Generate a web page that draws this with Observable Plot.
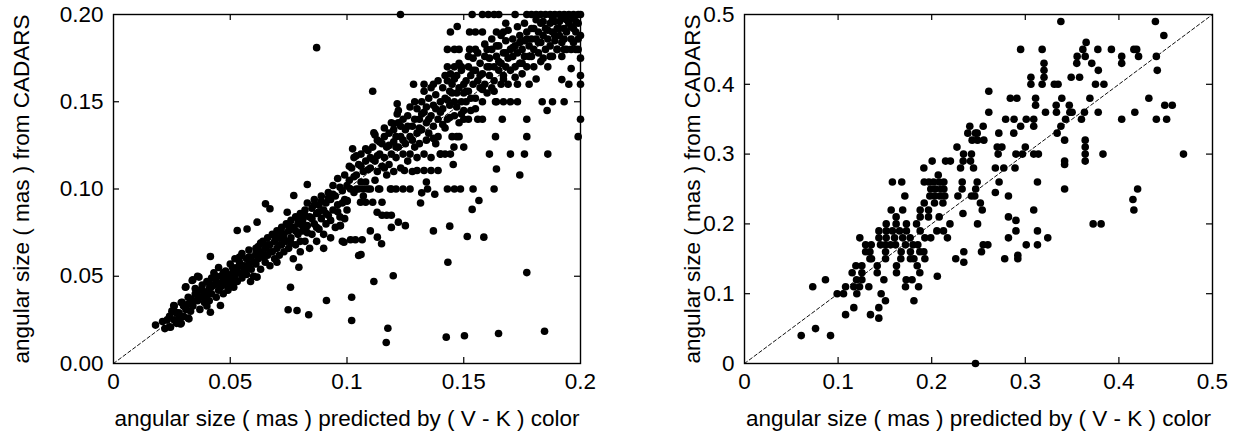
<!DOCTYPE html>
<html>
<head>
<meta charset="utf-8">
<script src="https://cdn.jsdelivr.net/npm/d3@7"></script>
<script src="https://cdn.jsdelivr.net/npm/@observablehq/plot@0.6"></script>
<style>
  html, body { margin: 0; padding: 0; background: white; }
  #wrap { display: flex; width: 1244px; height: 438px; }
</style>
</head>
<body>
<div id="wrap"></div>
<script>
// ---------- Left panel data ----------
const leftXTicks = [0, 0.05, 0.1, 0.15, 0.2];
const leftXTickLabels = ["0", "0.05", "0.1", "0.15", "0.2"];
const leftYTicks = [0, 0.05, 0.1, 0.15, 0.2];
const leftYTickLabels = ["0.00", "0.05", "0.10", "0.15", "0.20"];
const leftDomain = [0, 0.2];

const leftPoints = [
  [0.018,0.022],[0.021,0.024],[0.022,0.020],[0.024,0.027],[0.024,0.021],[0.026,0.025],[0.027,0.023],[0.028,0.029],[0.029,0.023],[0.026,0.033],[0.029,0.035],[0.027,0.029],[0.030,0.027],[0.032,0.026],[0.031,0.031],
  [0.0244,0.0208],[0.0287,0.0227],[0.0323,0.0256],[0.0258,0.0332],[0.0294,0.0351],[0.0266,0.0294],[0.0308,0.0437],[0.0337,0.0476],[0.0366,0.0495],[0.0415,0.0613],[0.0415,0.0294],[0.0458,0.0332],
  [0.031,0.044],[0.032,0.034],[0.033,0.030],[0.033,0.037],[0.034,0.048],[0.034,0.033],[0.035,0.040],[0.036,0.036],[0.036,0.050],[0.037,0.031],[0.037,0.042],[0.038,0.038],[0.038,0.045],[0.039,0.035],[0.039,0.041],[0.040,0.047],[0.040,0.033],[0.040,0.039],
  [0.041,0.043],[0.041,0.036],[0.042,0.049],[0.042,0.040],[0.043,0.045],[0.043,0.052],[0.044,0.038],[0.044,0.047],[0.045,0.042],[0.045,0.055],[0.046,0.050],[0.046,0.044],[0.047,0.040],[0.047,0.047],[0.048,0.053],[0.048,0.045],[0.049,0.050],[0.049,0.042],[0.050,0.057],[0.050,0.048],[0.050,0.044],
  [0.051,0.052],[0.051,0.046],[0.052,0.060],[0.052,0.050],[0.053,0.055],[0.053,0.047],[0.054,0.058],[0.054,0.052],[0.055,0.063],[0.055,0.049],[0.056,0.056],[0.056,0.053],[0.057,0.060],[0.057,0.051],[0.058,0.065],[0.058,0.057],[0.059,0.054],[0.059,0.061],[0.060,0.058],[0.060,0.050],
  [0.0515,0.0437],[0.0587,0.047],[0.0615,0.0495],[0.053,0.0762],[0.0572,0.0771],[0.0615,0.081],[0.0651,0.0915],[0.067,0.0887],[0.0772,0.0963],[0.0744,0.0867],
  [0.061,0.063],[0.061,0.057],[0.062,0.067],[0.062,0.060],[0.063,0.054],[0.063,0.064],[0.064,0.070],[0.064,0.061],[0.065,0.058],[0.065,0.066],[0.066,0.072],[0.066,0.062],[0.067,0.068],[0.067,0.056],[0.068,0.064],[0.068,0.074],[0.069,0.060],[0.069,0.070],[0.070,0.066],[0.070,0.076],[0.070,0.058],
  [0.071,0.072],[0.071,0.062],[0.072,0.078],[0.072,0.068],[0.073,0.064],[0.073,0.074],[0.074,0.080],[0.074,0.070],[0.075,0.066],[0.075,0.076],[0.076,0.082],[0.076,0.072],[0.077,0.060],[0.077,0.078],[0.078,0.068],[0.078,0.084],[0.079,0.074],[0.079,0.080],[0.080,0.070],[0.080,0.086],[0.080,0.064],
  [0.0758,0.0437],[0.0748,0.0308],[0.0786,0.0304],[0.0836,0.0279],[0.0912,0.0361],[0.0794,0.0552],
  [0.081,0.076],[0.081,0.082],[0.082,0.088],[0.082,0.070],[0.083,0.079],[0.083,0.092],[0.084,0.084],[0.084,0.066],[0.085,0.074],[0.085,0.089],[0.086,0.080],[0.086,0.094],[0.087,0.086],[0.087,0.070],[0.088,0.077],[0.088,0.091],[0.089,0.083],[0.089,0.096],[0.090,0.074],[0.090,0.088],[0.090,0.066],
  [0.083,0.1026],[0.1024,0.123],[0.087,0.181],
  [0.091,0.092],[0.091,0.080],[0.092,0.098],[0.092,0.085],[0.093,0.072],[0.093,0.094],[0.094,0.088],[0.094,0.102],[0.095,0.078],[0.095,0.096],[0.096,0.091],[0.096,0.106],[0.097,0.084],[0.097,0.079],[0.098,0.099],[0.098,0.070],[0.099,0.094],[0.099,0.108],[0.100,0.088],[0.100,0.093],[0.100,0.102],
  [0.0987,0.0695],[0.1036,0.0709],[0.0972,0.079],[0.1001,0.0934],[0.105,0.0619],[0.102,0.038],[0.102,0.0246],
  [0.101,0.105],[0.102,0.112],[0.103,0.098],[0.103,0.118],[0.104,0.108],[0.105,0.114],[0.105,0.100],[0.106,0.120],[0.107,0.110],[0.107,0.096],[0.108,0.116],[0.108,0.104],[0.109,0.122],[0.109,0.100],[0.110,0.112],[0.110,0.118],[0.110,0.100],
  [0.1115,0.1322],[0.120,0.1374],[0.1215,0.143],[0.1215,0.1488],[0.111,0.156],
  [0.111,0.124],[0.112,0.116],[0.112,0.105],[0.113,0.128],[0.113,0.110],[0.114,0.120],[0.114,0.100],[0.115,0.126],[0.115,0.113],[0.116,0.130],[0.116,0.118],[0.117,0.108],[0.117,0.124],[0.118,0.132],[0.118,0.114],[0.119,0.120],[0.119,0.100],[0.120,0.127],[0.120,0.110],[0.120,0.134],
  [0.1129,0.0867],[0.115,0.085],[0.117,0.085],[0.119,0.085],[0.122,0.081],[0.125,0.079],[0.119,0.078],[0.110,0.076],[0.113,0.0724],[0.1148,0.0686],[0.1115,0.047],[0.1198,0.0503],[0.1175,0.0202],[0.1168,0.012],[0.106,0.0625],[0.1015,0.0709],[0.1065,0.0709],
  [0.1015,0.100],[0.104,0.100],[0.107,0.100],[0.1135,0.100],[0.1186,0.100],[0.121,0.100],[0.124,0.100],[0.127,0.100],[0.1345,0.100],[0.143,0.100],[0.146,0.100],[0.1486,0.100],[0.154,0.100],[0.163,0.100],
  [0.1058,0.0924],[0.108,0.0924],[0.111,0.0924],[0.115,0.0924],
  [0.121,0.130],[0.121,0.118],[0.122,0.138],[0.122,0.124],[0.123,0.112],[0.123,0.130],[0.124,0.140],[0.124,0.120],[0.125,0.134],[0.125,0.126],[0.126,0.116],[0.126,0.142],[0.127,0.130],[0.127,0.120],[0.128,0.136],[0.128,0.110],[0.129,0.140],[0.129,0.124],[0.130,0.132],[0.130,0.146],[0.130,0.118],
  [0.1229,0.200],[0.1246,0.1106],[0.130,0.1106],[0.133,0.1106],[0.136,0.1106],[0.139,0.1106],[0.134,0.104],[0.1315,0.092],[0.1376,0.097],[0.132,0.0978],[0.137,0.076],
  [0.1285,0.160],[0.133,0.160],[0.137,0.160],
  [0.131,0.140],[0.131,0.126],[0.132,0.150],[0.132,0.134],[0.133,0.120],[0.133,0.144],[0.134,0.138],[0.134,0.128],[0.135,0.152],[0.135,0.132],[0.136,0.142],[0.136,0.118],[0.137,0.148],[0.137,0.136],[0.138,0.126],[0.138,0.154],[0.139,0.140],[0.139,0.130],[0.140,0.150],[0.140,0.144],[0.140,0.120],
  [0.141,0.146],[0.141,0.158],[0.142,0.135],[0.142,0.152],[0.143,0.162],[0.143,0.140],[0.144,0.148],[0.144,0.156],[0.145,0.130],[0.145,0.160],[0.146,0.150],[0.146,0.142],[0.147,0.165],[0.147,0.155],[0.148,0.138],[0.148,0.158],[0.149,0.150],[0.149,0.168],[0.150,0.145],[0.150,0.160],[0.150,0.155],
  [0.143,0.170],[0.146,0.170],[0.149,0.170],[0.1443,0.166],
  [0.151,0.162],[0.151,0.150],[0.152,0.170],[0.152,0.156],[0.153,0.145],[0.153,0.165],[0.154,0.160],[0.154,0.175],[0.155,0.152],[0.155,0.168],[0.156,0.162],[0.156,0.140],[0.157,0.172],[0.157,0.158],[0.158,0.166],[0.158,0.150],[0.159,0.176],[0.159,0.160],[0.160,0.170],[0.160,0.155],[0.160,0.180],
  [0.161,0.165],[0.161,0.175],[0.162,0.158],[0.162,0.180],[0.163,0.170],[0.163,0.162],[0.164,0.176],[0.164,0.150],[0.165,0.168],[0.165,0.182],[0.166,0.172],[0.166,0.160],[0.167,0.178],[0.167,0.165],[0.168,0.185],[0.168,0.170],[0.169,0.175],[0.169,0.160],[0.170,0.180],[0.170,0.168],
  [0.171,0.176],[0.171,0.186],[0.172,0.170],[0.172,0.182],[0.173,0.178],[0.173,0.160],[0.174,0.188],[0.174,0.172],[0.175,0.180],[0.175,0.166],[0.176,0.185],[0.176,0.176],[0.177,0.190],[0.177,0.170],[0.178,0.182],[0.178,0.160],[0.179,0.186],[0.179,0.176],[0.180,0.192],[0.180,0.180],[0.180,0.170],
  [0.181,0.186],[0.181,0.163],[0.182,0.190],[0.182,0.178],[0.183,0.184],[0.183,0.195],[0.184,0.175],[0.184,0.188],[0.185,0.192],[0.185,0.180],[0.186,0.170],[0.186,0.186],[0.187,0.195],[0.187,0.182],[0.188,0.190],[0.188,0.176],[0.189,0.185],[0.189,0.196],[0.190,0.192],[0.190,0.180],
  [0.191,0.188],[0.191,0.196],[0.192,0.1627],[0.192,0.184],[0.193,0.192],[0.193,0.198],[0.194,0.180],[0.194,0.190],[0.195,0.160],[0.195,0.195],[0.196,0.169],[0.196,0.186],[0.197,0.192],[0.197,0.198],[0.198,0.180],[0.198,0.190],[0.199,0.195],[0.200,0.188],[0.200,0.175],[0.200,0.160],[0.200,0.165],
  [0.1536,0.200],[0.158,0.200],[0.1605,0.200],[0.163,0.200],[0.165,0.200],[0.172,0.200],[0.177,0.200],[0.179,0.200],[0.181,0.200],[0.183,0.200],[0.185,0.200],[0.187,0.200],[0.189,0.200],[0.191,0.200],[0.193,0.200],[0.195,0.200],[0.197,0.200],[0.199,0.200],[0.200,0.200],
  [0.1443,0.190],[0.1525,0.190],[0.155,0.190],[0.158,0.190],[0.164,0.190],[0.167,0.190],[0.1472,0.1931],[0.168,0.195],
  [0.143,0.180],[0.146,0.180],[0.148,0.180],[0.1525,0.180],[0.155,0.180],[0.190,0.180],[0.193,0.180],[0.196,0.180],[0.199,0.180],
  [0.1636,0.150],[0.167,0.150],[0.170,0.150],[0.173,0.150],[0.1836,0.150],[0.188,0.150],[0.193,0.150],[0.1857,0.145],
  [0.150,0.140],[0.152,0.140],[0.158,0.140],[0.1665,0.140],[0.177,0.140],[0.200,0.140],
  [0.147,0.130],[0.148,0.130],[0.1636,0.130],[0.177,0.130],[0.199,0.130],
  [0.140,0.120],[0.142,0.120],[0.1443,0.120],[0.161,0.120],[0.170,0.120],[0.176,0.120],[0.186,0.120],[0.150,0.124],[0.1458,0.124],
  [0.164,0.1115],[0.174,0.108],[0.1455,0.114],
  [0.1565,0.0934],[0.1536,0.0883],[0.144,0.0787],[0.1515,0.0728],[0.1586,0.0724],[0.1432,0.058],[0.177,0.0521],
  [0.1425,0.0151],[0.1503,0.0159],[0.1649,0.0172],[0.1846,0.0185],
  // extra band points
  [0.101,0.113],[0.103,0.107],[0.104,0.119],[0.106,0.104],[0.106,0.113],[0.108,0.123],[0.109,0.111],[0.111,0.117],[0.112,0.131],[0.113,0.119],[0.114,0.127],[0.116,0.112],[0.116,0.135],[0.118,0.125],[0.119,0.138],[0.121,0.124],[0.122,0.145],[0.123,0.136],[0.124,0.128],[0.126,0.136],[0.127,0.147],[0.128,0.128],[0.129,0.150],[0.131,0.135],[0.132,0.143],[0.133,0.156],[0.134,0.147],[0.135,0.140],[0.136,0.158],[0.137,0.129],[0.138,0.146],[0.139,0.162],[0.141,0.137],[0.142,0.165],[0.143,0.151],[0.144,0.141],[0.145,0.155],[0.146,0.163],[0.147,0.147],[0.148,0.172],[0.149,0.143],
  [0.151,0.156],[0.152,0.176],[0.153,0.152],[0.154,0.168],[0.155,0.146],[0.156,0.178],[0.157,0.165],[0.158,0.157],[0.159,0.183],[0.161,0.170],[0.162,0.186],[0.163,0.156],[0.164,0.182],[0.165,0.173],[0.166,0.188],[0.167,0.163],[0.168,0.178],[0.169,0.191],[0.171,0.181],[0.172,0.164],[0.173,0.193],[0.174,0.184],[0.175,0.172],[0.176,0.195],[0.177,0.186],[0.178,0.176],[0.179,0.192],[0.181,0.197],[0.182,0.184],[0.183,0.173],[0.184,0.196],[0.186,0.191],[0.187,0.176],[0.188,0.197],[0.189,0.188],[0.191,0.192],[0.192,0.176],[0.193,0.186],[0.194,0.197],[0.196,0.193],[0.197,0.184],[0.198,0.196],[0.199,0.186],
  [0.023,0.025],[0.025,0.030],[0.028,0.026],[0.030,0.033],[0.032,0.038],[0.034,0.036],[0.035,0.043],[0.036,0.039],[0.038,0.042],[0.041,0.046],[0.042,0.044],[0.044,0.050],[0.045,0.046],[0.047,0.052],[0.048,0.049],[0.051,0.055],[0.052,0.053],[0.054,0.061],[0.055,0.056],[0.057,0.055],[0.058,0.061],[0.061,0.066],[0.062,0.063],[0.063,0.069],[0.065,0.062],[0.066,0.068],[0.067,0.064],[0.069,0.073],[0.071,0.068],[0.072,0.075],[0.073,0.071],[0.075,0.079],[0.076,0.069],[0.078,0.076],[0.079,0.083],[0.081,0.079],[0.082,0.085],[0.083,0.075],[0.085,0.083],[0.086,0.091],[0.087,0.078],[0.088,0.087],[0.089,0.093],[0.091,0.086],[0.092,0.095],[0.093,0.082],[0.094,0.097],[0.096,0.087],[0.097,0.101],[0.098,0.092],[0.099,0.083]
];

// ---------- Right panel data ----------
const rightXTicks = [0, 0.1, 0.2, 0.3, 0.4, 0.5];
const rightXTickLabels = ["0", "0.1", "0.2", "0.3", "0.4", "0.5"];
const rightYTicks = [0, 0.1, 0.2, 0.3, 0.4, 0.5];
const rightYTickLabels = ["0", "0.1", "0.2", "0.3", "0.4", "0.5"];
const rightDomain = [0, 0.5];

// rows: [CADARS size, [predicted sizes...]]
const rightRows = [
  [0.49, [0.338, 0.439]],
  [0.47, [0.448]],
  [0.46, [0.365]],
  [0.45, [0.295, 0.318, 0.3615, 0.3775, 0.392, 0.416, 0.419]],
  [0.44, [0.3554, 0.364, 0.403, 0.421, 0.440]],
  [0.43, [0.320, 0.355, 0.371, 0.403]],
  [0.42, [0.320, 0.378, 0.441]],
  [0.41, [0.306, 0.320, 0.349, 0.358]],
  [0.40, [0.306, 0.318, 0.331, 0.335, 0.375, 0.384]],
  [0.39, [0.261]],
  [0.38, [0.284, 0.291, 0.311, 0.339, 0.369, 0.432]],
  [0.37, [0.311, 0.333, 0.347, 0.449, 0.457]],
  [0.36, [0.261, 0.3216, 0.3333, 0.3476, 0.350, 0.3632, 0.3779, 0.417]],
  [0.35, [0.279, 0.288, 0.301, 0.309, 0.343, 0.360, 0.403, 0.440, 0.451]],
  [0.34, [0.2407, 0.255, 0.295, 0.309, 0.338]],
  [0.33, [0.2386, 0.2468, 0.2486, 0.2717, 0.2877, 0.334]],
  [0.32, [0.2432, 0.249, 0.2557, 0.342, 0.364]],
  [0.31, [0.227, 0.270, 0.275, 0.300, 0.364]],
  [0.30, [0.234, 0.2425, 0.271, 0.290, 0.297, 0.309, 0.314, 0.364, 0.383, 0.469]],
  [0.29, [0.2005, 0.2148, 0.220, 0.2336, 0.2415, 0.342, 0.364]],
  [0.28, [0.1916, 0.2308, 0.2447, 0.268, 0.277, 0.289]],
  [0.285, [0.342]],
  [0.27, [0.207]],
  [0.26, [0.158, 0.168, 0.192, 0.197, 0.202, 0.208, 0.213, 0.2326, 0.2486, 0.272, 0.313]],
  [0.25, [0.199, 0.204, 0.210, 0.213, 0.2325, 0.247, 0.342, 0.420]],
  [0.245, [0.268]],
  [0.24, [0.1713, 0.198, 0.203, 0.2087, 0.214, 0.228, 0.2425, 0.246, 0.282]],
  [0.235, [0.415]],
  [0.23, [0.192, 0.203, 0.212, 0.252]],
  [0.22, [0.1567, 0.169, 0.1877, 0.1966, 0.254, 0.309, 0.416]],
  [0.215, [0.2334]],
  [0.21, [0.162, 0.1877, 0.1966, 0.208, 0.282]],
  [0.205, [0.290]],
  [0.20, [0.1514, 0.162, 0.173, 0.1838, 0.2195, 0.249, 0.3725, 0.381]],
  [0.19, [0.1436, 0.1514, 0.158, 0.1657, 0.173, 0.1877, 0.2055, 0.2126, 0.290, 0.313]],
  [0.18, [0.1232, 0.1436, 0.1514, 0.1603, 0.169, 0.177, 0.1927, 0.199, 0.2168, 0.282, 0.324]],
  [0.17, [0.1294, 0.1354, 0.1453, 0.1507, 0.1560, 0.1614, 0.172, 0.180, 0.1852, 0.255, 0.260, 0.301, 0.313]],
  [0.16, [0.1294, 0.134, 0.1507, 0.1674, 0.1773, 0.1873, 0.1916, 0.2343, 0.2532]],
  [0.155, [0.292]],
  [0.15, [0.134, 0.1357, 0.1507, 0.167, 0.1773, 0.181, 0.1927, 0.2257, 0.278, 0.292]],
  [0.145, [0.2343]],
  [0.14, [0.119, 0.1254, 0.1418, 0.1624, 0.1845]],
  [0.13, [0.115, 0.1254, 0.1418, 0.1624, 0.1873]],
  [0.125, [0.206]],
  [0.12, [0.0865, 0.1197, 0.1254, 0.1489, 0.1727, 0.179]],
  [0.11, [0.0729, 0.108, 0.1168, 0.1229, 0.1328, 0.172, 0.186]],
  [0.10, [0.099, 0.1058, 0.120, 0.146]],
  [0.09, [0.1506, 0.181]],
  [0.08, [0.1168, 0.1435]],
  [0.07, [0.108, 0.1346]],
  [0.065, [0.1435]],
  [0.05, [0.0759]],
  [0.04, [0.0606, 0.0919]],
  [0.00, [0.2468]]
];
const rightPoints = rightRows.flatMap(([y, xs]) => xs.map(x => [x, y]));

const xLabelText = "angular size ( mas ) predicted by ( V - K ) color";
const yLabelText = "angular size ( mas ) from CADARS";

// ---------- Drawing ----------
const FONT = "'Liberation Sans', Arial, Helvetica, sans-serif";
const FS = 22.5;
const W = 622, H = 438, MT = 14, MB = 75;

function panel({points, domain, xTicks, xLabels, yTicks, yLabels, marginLeft, marginRight, yLabelDx, yTickPad}) {
  const innerW = W - marginLeft - marginRight;
  const innerH = H - MT - MB;
  return Plot.plot({
    width: W, height: H,
    marginLeft, marginRight, marginTop: MT, marginBottom: MB,
    style: {fontFamily: FONT, fontSize: FS + "px", color: "black", background: "white", overflow: "visible"},
    x: {domain, ticks: xTicks, tickFormat: (d) => xLabels[xTicks.indexOf(d)], tickSize: 0, tickPadding: 10, label: null},
    y: {domain, ticks: yTicks, tickFormat: (d) => yLabels[yTicks.indexOf(d)], tickSize: 0, tickPadding: yTickPad, label: null},
    marks: [
      Plot.line(domain, {x: d => d, y: d => d, stroke: "#111", strokeWidth: 1, strokeDasharray: "3.5,2.5"}),
      Plot.dot(points, {x: d => d[0], y: d => d[1], r: 3.8, fill: "black", stroke: "none"}),
      Plot.frame({stroke: "black", strokeWidth: 1.4}),
      Plot.tickX(xTicks.slice(1, -1), {x: d => d, insetTop: innerH - 6, stroke: "black", strokeWidth: 1.2}),
      Plot.tickX(xTicks.slice(1, -1), {x: d => d, insetBottom: innerH - 6, stroke: "black", strokeWidth: 1.2}),
      Plot.tickY(yTicks.slice(1, -1), {y: d => d, insetRight: innerW - 6, stroke: "black", strokeWidth: 1.2}),
      Plot.tickY(yTicks.slice(1, -1), {y: d => d, insetLeft: innerW - 6, stroke: "black", strokeWidth: 1.2}),
      Plot.text([xLabelText], {frameAnchor: "bottom", dy: 55, text: d => d, fontSize: FS, fill: "black", textAnchor: "middle", lineAnchor: "middle"}),
      Plot.text([yLabelText], {frameAnchor: "left", dx: yLabelDx, rotate: -90, text: d => d, fontSize: FS, fill: "black", textAnchor: "middle", lineAnchor: "middle"})
    ]
  });
}

const wrap = document.getElementById("wrap");
wrap.appendChild(panel({
  points: leftPoints, domain: leftDomain,
  xTicks: leftXTicks, xLabels: leftXTickLabels,
  yTicks: leftYTicks, yLabels: leftYTickLabels,
  marginLeft: 113, marginRight: 42, yLabelDx: -92, yTickPad: 10
}));
wrap.appendChild(panel({
  points: rightPoints, domain: rightDomain,
  xTicks: rightXTicks, xLabels: rightXTickLabels,
  yTicks: rightYTicks, yLabels: rightYTickLabels,
  marginLeft: 122, marginRight: 32, yLabelDx: -52, yTickPad: 10
}));
</script>
</body>
</html>
